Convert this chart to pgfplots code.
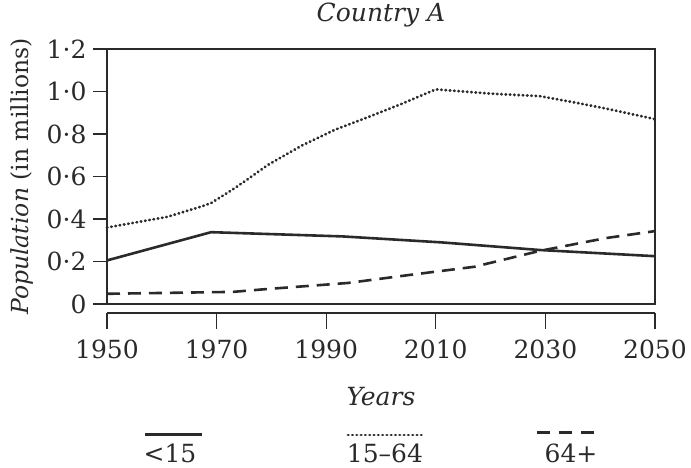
\documentclass[border=0pt]{standalone}
\usepackage{fontspec}
\setmainfont{DejaVu Serif}
\usepackage{pgfplots}
\pgfplotsset{compat=1.18}
\definecolor{ink}{HTML}{2A2A2A}
\newcommand{\chfont}{\fontsize{25}{29}\selectfont}
\begin{document}
\chfont
\begin{tikzpicture}[x=1pt,y=1pt]
\path[use as bounding box] (0,0) rectangle (691,468);
\begin{axis}[
  at={(107pt,164pt)}, anchor=south west,
  scale only axis, width=548pt, height=255pt,
  xmin=1950, xmax=2050, ymin=0, ymax=1.2,
  xtick=\empty,
  ytick={0,0.2,0.4,0.6,0.8,1.0,1.2},
  yticklabels={0,0·2,0·4,0·6,0·8,1·0,1·2},
  ytick pos=left,
  tick align=outside, major tick length=14pt,
  every tick/.style={ink, line width=1.3pt},
  axis line style={ink, line width=1.3pt},
  title={\itshape Country A},
  title style={at={(axis description cs:0.5,1)}, anchor=base, yshift=21pt, text=ink, font=\chfont},
  ylabel={\textit{Population} (in millions)},
  ylabel style={at={(axis description cs:-0.155,0.5)}, anchor=center, text=ink, font=\fontsize{23.5}{27}\selectfont},
  yticklabel style={text=ink, font=\chfont, xshift=2pt},
  clip=false,
]
\addplot[ink, line width=2.6pt] coordinates {
 (1950,0.205) (1969,0.338) (1993,0.318) (2011,0.29) (2029,0.254) (2050,0.225)};
\addplot[ink, line width=2.9pt, line cap=round, dash pattern=on 0.4pt off 3.9pt] coordinates {
 (1950,0.36) (1961,0.41) (1967,0.457) (1969,0.475) (1973,0.54) (1975,0.575)
 (1979.4,0.655) (1985.5,0.745) (1991.6,0.82) (1997.7,0.88) (2003.6,0.94)
 (2010,1.01) (2020,0.99) (2029,0.978) (2035,0.95) (2041,0.92) (2050,0.87)};
\addplot[ink, line width=2.6pt, dash pattern=on 13pt off 8pt] coordinates {
 (1950,0.048) (1973,0.057) (1979,0.07) (1994,0.099) (2005,0.136) (2017,0.175)
 (2029,0.25) (2041,0.31) (2050,0.343)};
\end{axis}
\begin{axis}[
  at={(107pt,155pt)}, anchor=south west,
  scale only axis, width=548pt, height=1pt,
  xmin=1950, xmax=2050, ymin=0, ymax=1,
  axis x line*=bottom, axis y line=none,
  xtick={1950,1970,1990,2010,2030,2050},
  xticklabels={1950,1970,1990,2010,2030,2050},
  tick align=outside, major tick length=16pt,
  every tick/.style={ink, line width=1.3pt},
  axis line style={ink, line width=1.3pt},
  xticklabel style={text=ink, font=\chfont, yshift=-2pt},
  xlabel={\itshape Years},
  xlabel style={at={(axis description cs:0.5,0)}, anchor=center, yshift=-84pt, text=ink, font=\chfont},
]
\end{axis}
\draw[ink, line width=3pt] (145,33) -- (202,33);
\node[text=ink, anchor=base, inner sep=0pt] at (170,5) {<15};
\draw[ink, line width=2.9pt, line cap=round, dash pattern=on 0.4pt off 3.9pt] (348,33) -- (425,33);
\node[text=ink, anchor=base, inner sep=0pt] at (385,5) {15–64};
\draw[ink, line width=3pt, dash pattern=on 13pt off 9pt] (537,35) -- (595,35);
\node[text=ink, anchor=base, inner sep=0pt] at (571,5) {64+};
\end{tikzpicture}
\end{document}
